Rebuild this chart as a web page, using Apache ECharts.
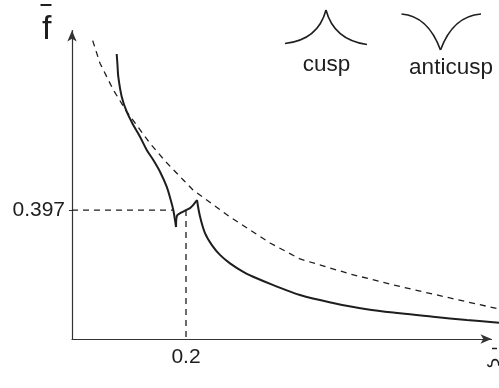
<!DOCTYPE html>
<html>
<head>
<meta charset="utf-8">
<script src="https://cdn.jsdelivr.net/npm/echarts@6/dist/echarts.min.js"></script>
<style>html,body{margin:0;padding:0;background:#fff;}#c{width:499px;height:388px;}</style>
</head>
<body>
<div id="c"></div>
<script>
// Solid curve, three branches (x = xi, y = f)
const branch1X = [0.0784, 0.0798, 0.0812, 0.0872, 0.0960, 0.1075, 0.1193, 0.1311, 0.1426, 0.1544, 0.1661, 0.1732, 0.1777, 0.1807, 0.1825];
const branch1Y = [0.8777, 0.8438, 0.8078, 0.7462, 0.7000, 0.6591, 0.6230, 0.5821, 0.5513, 0.5152, 0.4691, 0.4281, 0.3973, 0.3665, 0.3449];
const branch2X = [0.1825, 0.1830, 0.1851, 0.1912, 0.2000, 0.2070, 0.2132, 0.2175, 0.2193];
const branch2Y = [0.3449, 0.370, 0.382, 0.389, 0.397, 0.403, 0.414, 0.4235, 0.428];
const branch3X = [0.2193, 0.2246, 0.2333, 0.2451, 0.2596, 0.2772, 0.3005, 0.3240, 0.3532, 0.4000, 0.4579, 0.5170, 0.5754, 0.6333, 0.6925, 0.7491];
const branch3Y = [0.428, 0.377, 0.326, 0.290, 0.259, 0.233, 0.207, 0.187, 0.166, 0.1355, 0.111, 0.0915, 0.079, 0.0687, 0.0585, 0.0502];
// Dashed reference curve
const dashX = [0.0363, 0.0491, 0.0725, 0.0960, 0.1368, 0.1649, 0.1953, 0.2123, 0.2772, 0.3123, 0.3474, 0.4000, 0.4877, 0.5754, 0.6632, 0.7491];
const dashY = [0.9187, 0.8491, 0.7669, 0.7001, 0.6027, 0.5451, 0.4897, 0.4589, 0.3757, 0.3357, 0.2957, 0.2464, 0.2002, 0.1617, 0.1263, 0.0924];
// Marked point
const markX = 0.2, markY = 0.397, hLineEndX = 0.177;
const xTicks = [0.2];
const yTicks = [0.397];

const zip = (xs, ys) => xs.map((x, i) => [x, ys[i]]);
const FONT = 'Liberation Sans';
const INK = '#1e1e1e';

const solid = { type: 'line', symbol: 'none', clip: false, smooth: 0.35, xAxisIndex: 1, yAxisIndex: 1, lineStyle: { color: INK, width: 2 } };
const dashed = { type: 'line', symbol: 'none', clip: false, xAxisIndex: 1, yAxisIndex: 1, lineStyle: { color: INK, width: 1.3, type: [6, 5] } };

const hiddenAxis = { show: false, type: 'value', min: 0, splitLine: { show: false } };

const chart = echarts.init(document.getElementById('c'), null, { renderer: 'canvas' });
chart.setOption({
  animation: false,
  backgroundColor: '#fff',
  grid: [
    { left: 72, right: 7.5, top: 30.5, bottom: 49, outerBoundsMode: 'none' },
    { left: 72, right: 0, top: 30.5, bottom: 49, outerBoundsMode: 'none' }
  ],
  xAxis: [{
    type: 'value', min: 0, max: 0.736, gridIndex: 0,
    splitLine: { show: false },
    axisLine: { show: true, symbol: ['none', 'arrow'], symbolSize: [7, 11], lineStyle: { color: '#333', width: 1.2 } },
    axisTick: { show: false },
    axisLabel: { customValues: xTicks, fontSize: 21, color: INK, fontFamily: FONT, margin: 8 }
  }, Object.assign({}, hiddenAxis, { gridIndex: 1, max: 0.7491 })],
  yAxis: [{
    type: 'value', min: 0, max: 0.95, gridIndex: 0,
    splitLine: { show: false },
    axisLine: { show: true, symbol: ['none', 'arrow'], symbolSize: [7, 11], lineStyle: { color: '#333', width: 1.2 } },
    axisTick: { show: true, customValues: yTicks, length: 3, lineStyle: { color: '#333', width: 1 } },
    axisLabel: { customValues: yTicks, fontSize: 21, color: INK, fontFamily: FONT, margin: 7 }
  }, Object.assign({}, hiddenAxis, { gridIndex: 1, max: 0.95 })],
  series: [
    Object.assign({}, dashed, { data: zip(dashX, dashY) }),
    Object.assign({}, dashed, { data: [[0, markY], [hLineEndX, markY]], smooth: false }),
    Object.assign({}, dashed, { data: [[markX, markY], [markX, 0]], smooth: false }),
    Object.assign({}, solid, { data: zip(branch1X, branch1Y) }),
    Object.assign({}, solid, { data: zip(branch2X, branch2Y), smooth: 0.2 }),
    Object.assign({}, solid, { data: zip(branch3X, branch3Y) })
  ],
  graphic: [
    { type: 'text', left: 42, top: 13, style: { text: 'f', font: '34px "Liberation Sans"', fill: INK } },
    { type: 'line', shape: { x1: 40.5, y1: 5, x2: 51.5, y2: 5 }, style: { stroke: INK, lineWidth: 2 } },
    { type: 'text', x: 496, y: 363, rotation: -Math.PI / 2, style: { text: 'ξ', font: '19px "DejaVu Sans"', fill: INK, align: 'center', verticalAlign: 'middle' } },
    { type: 'line', shape: { x1: 492, y1: 348.5, x2: 497, y2: 348.5 }, style: { stroke: INK, lineWidth: 1.5 } },
    // cusp icon
    { type: 'bezierCurve', shape: { x1: 285, y1: 43.5, cpx1: 318, cpy1: 40, x2: 326, y2: 10 }, style: { stroke: INK, lineWidth: 1.6, fill: null } },
    { type: 'bezierCurve', shape: { x1: 326, y1: 10, cpx1: 334, cpy1: 40, x2: 367, y2: 44.5 }, style: { stroke: INK, lineWidth: 1.6, fill: null } },
    { type: 'text', x: 326.5, y: 65, style: { text: 'cusp', font: '22.5px "Liberation Sans"', fill: INK, align: 'center', verticalAlign: 'middle' } },
    // anticusp icon
    { type: 'bezierCurve', shape: { x1: 401.5, y1: 14, cpx1: 428, cpy1: 16, x2: 440.5, y2: 50 }, style: { stroke: INK, lineWidth: 1.6, fill: null } },
    { type: 'bezierCurve', shape: { x1: 440.5, y1: 50, cpx1: 453, cpy1: 16, x2: 481, y2: 14 }, style: { stroke: INK, lineWidth: 1.6, fill: null } },
    { type: 'text', x: 451, y: 68, style: { text: 'anticusp', font: '22.5px "Liberation Sans"', fill: INK, align: 'center', verticalAlign: 'middle' } }
  ]
});
</script>
</body>
</html>
